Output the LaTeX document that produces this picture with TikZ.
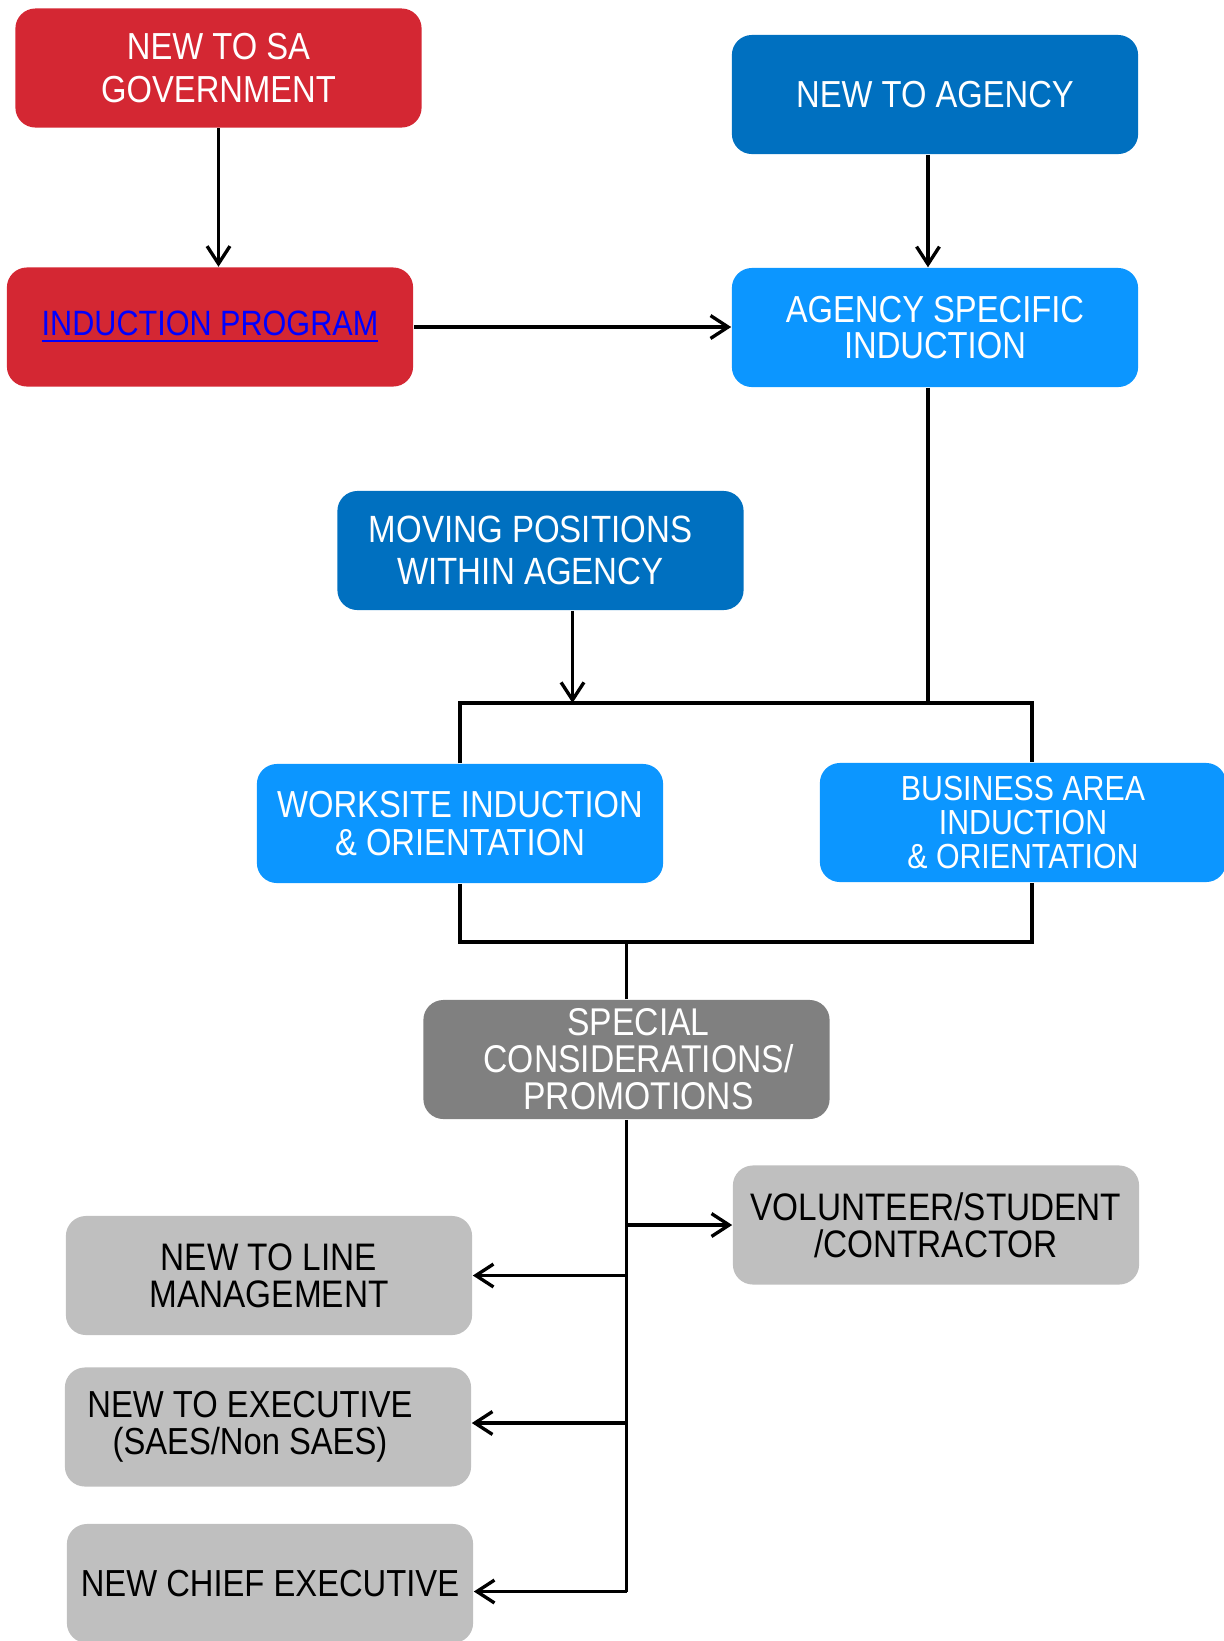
\documentclass[tikz,border=0pt]{standalone}
\usepackage{fontspec}
\setmainfont[FakeStretch=0.87]{Liberation Sans}
\usetikzlibrary{arrows.meta}
\definecolor{govred}{RGB}{212,39,51}
\definecolor{agencyblue}{RGB}{0,112,192}
\definecolor{inductblue}{RGB}{12,150,255}
\definecolor{specialgray}{RGB}{128,128,128}
\definecolor{casegray}{RGB}{191,191,191}
\definecolor{linkblue}{RGB}{0,0,255}
\begin{document}
\begin{tikzpicture}[x=0.01cm, y=-0.01cm,
  box/.style={rounded corners=0.2cm, minimum width=4.06cm, minimum height=1.19cm,
    inner sep=0pt, align=center, font=\fontsize{10.7}{10.5}\selectfont},
  govbox/.style={box, fill=govred, text=white},
  agencybox/.style={box, fill=agencyblue, text=white},
  inductbox/.style={box, fill=inductblue, text=white},
  specialbox/.style={box, fill=specialgray, text=white},
  casebox/.style={box, fill=casegray, text=black},
  wire/.style={line width=0.95pt},
  flow/.style={wire, arrows={-Straight Barb[length=5pt, width=6.5pt]}}]
\useasboundingbox (0,0) rectangle (1224,1641);
\node[govbox, font=\fontsize{10.7}{12}\selectfont] (sagov) at (218.5,68) {NEW TO SA\\GOVERNMENT};
\node[govbox, font=\fontsize{10}{10.5}\selectfont] (indprog) at (210,327) {\textcolor{linkblue}{\underline{INDUCTION PROGRAM}}};
\node[agencybox] (newagency) at (935,94.5) {NEW TO AGENCY};
\node[inductbox, font=\fontsize{10.7}{10.3}\selectfont] (agspec) at (935,327.5) {AGENCY SPECIFIC\\INDUCTION};
\node[agencybox, font=\fontsize{10.8}{12}\selectfont] (moving) at (540.5,550.5) {MOVING POSITIONS\hspace*{0.2cm}\\WITHIN AGENCY\hspace*{0.2cm}};
\node[inductbox, font=\fontsize{10.7}{10.8}\selectfont] (worksite) at (460,823.5) {WORKSITE INDUCTION\\\& ORIENTATION};
\node[inductbox, font=\fontsize{9.9}{9.8}\selectfont] (business) at (1023,822.5) {BUSINESS AREA\\INDUCTION\\\& ORIENTATION};
\node[specialbox, font=\fontsize{11}{10.5}\selectfont] (special) at (626.5,1059.5) {\hspace*{0.24cm}SPECIAL\\\hspace*{0.24cm}CONSIDERATIONS/\\\hspace*{0.24cm}PROMOTIONS};
\node[casebox, font=\fontsize{10.9}{10.5}\selectfont] (volunteer) at (936,1225) {VOLUNTEER/STUDENT\\/CONTRACTOR};
\node[casebox, font=\fontsize{10.9}{10.5}\selectfont] (line) at (269,1275.5) {NEW TO LINE\\MANAGEMENT};
\node[casebox] (exec) at (268,1427) {NEW TO EXECUTIVE\hspace*{0.36cm}\\(SAES/Non SAES)\hspace*{0.36cm}};
\node[casebox] (chief) at (270,1583.5) {NEW CHIEF EXECUTIVE};
\coordinate (topbar) at (0,703);
\coordinate (lowbar) at (0,942);
\draw[flow] (sagov.south) -- (sagov.south |- indprog.north);
\draw[flow] (indprog.east) -- (agspec.west |- indprog.east);
\draw[flow] ([xshift=-0.07cm]newagency.south) -- ([xshift=-0.07cm]agspec.north);
\draw[wire] ([xshift=-0.07cm]agspec.south) -- ([xshift=-0.07cm]agspec.south |- topbar);
\draw[flow] ([xshift=0.32cm]moving.south) -- ([xshift=0.32cm]moving.south |- topbar);
\draw[wire] (worksite.north) -- (worksite.north |- topbar) -- ([xshift=0.09cm]business.north |- topbar) -- ([xshift=0.09cm]business.north);
\draw[wire] (worksite.south) -- (worksite.south |- lowbar) -- ([xshift=0.09cm]business.south |- lowbar) -- ([xshift=0.09cm]business.south);
\draw[wire] (special.north) -- (special.north |- lowbar);
\draw[wire] (special.south) -- ([yshift=-0.08cm]special.south |- chief.east);
\draw[flow] (special.south |- volunteer.west) -- (volunteer.west);
\foreach \n/\dy in {line/0cm, exec/0.04cm, chief/-0.08cm}
  \draw[flow] ([yshift=\dy]special.south |- \n.east) -- ([yshift=\dy]\n.east);
\end{tikzpicture}
\end{document}
